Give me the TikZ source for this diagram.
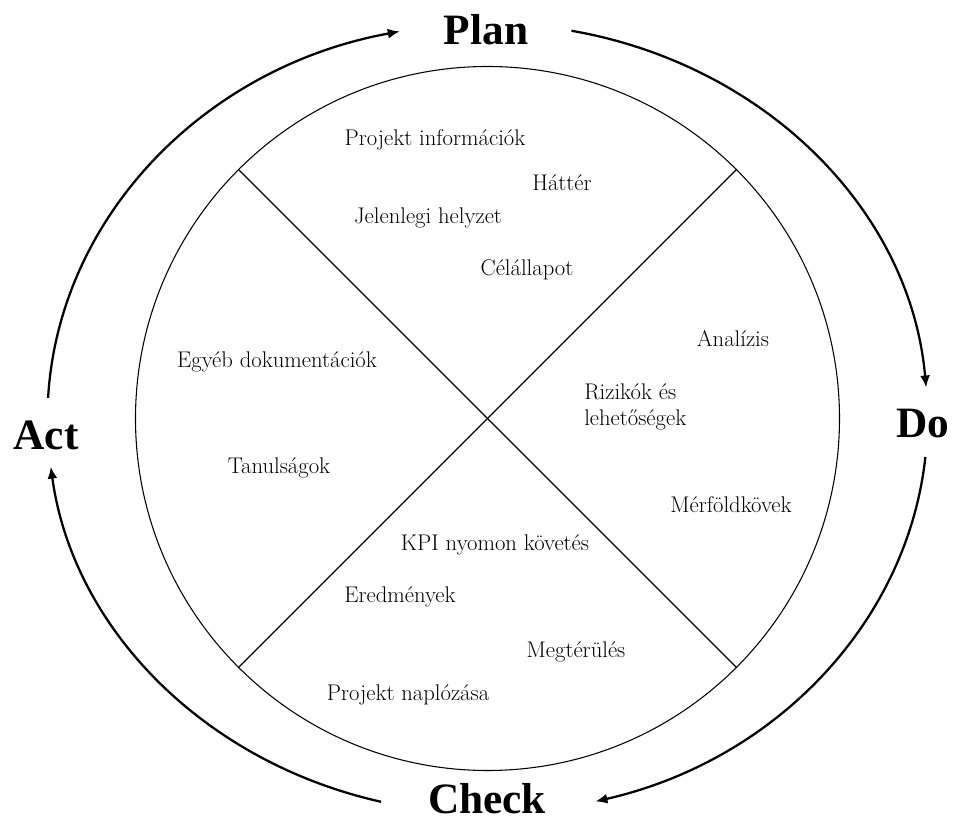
\documentclass[tikz,border=0pt]{standalone}
\usepackage{fontspec}
\newfontfamily\phasefont{LiberationSerif-Bold.ttf}
\usetikzlibrary{arrows.meta}

\begin{document}
\begin{tikzpicture}[x=0.75pt,y=0.75pt,
    item/.style={inner sep=0pt,font=\fontsize{17}{20}\selectfont},
    phase/.style={inner sep=0pt,anchor=base,font=\fontsize{32.5}{36}\phasefont},
    turn/.style={-{Latex[length=9pt,width=7.5pt]},line width=1.7pt}]
            \useasboundingbox (-487.5,-404.5) rectangle (468.5,418.5);

            % wheel
            \node[draw,circle,inner sep=0pt,minimum size=528pt,line width=0.8pt] (wheel) at (0,0) {};
            \draw[line width=0.9pt] (wheel.135) -- (wheel.315);
            \draw[line width=0.9pt] (wheel.45) -- (wheel.225);

            % phases
            \node[phase] (plan) at (-1.5,373.5) {Plan};
            \node[phase] (do) at (435.5,-19.5) {Do};
            \node[phase] (check) at (-0.5,-395) {Check};
            \node[phase] (act) at (-441.5,-31.5) {Act};

            % arrows round the wheel
            \coordinate (actout) at (177:440 and 395);
            \coordinate (planout) at (79:440 and 395);
            \coordinate (doout) at (-5.6:440 and 395);
            \coordinate (checkout) at (-104:440 and 395);
            \draw[turn] (actout) arc[start angle=177,end angle=101.5,x radius=440,y radius=395];
            \draw[turn] (planout) arc[start angle=79,end angle=4.5,x radius=440,y radius=395];
            \draw[turn] (doout) arc[start angle=-5.6,end angle=-75.8,x radius=440,y radius=395];
            \draw[turn] (checkout) arc[start angle=-104,end angle=-173,x radius=440,y radius=395];

            % plan
            \node[item] (projinfo) at (-52.5,278.5) {Projekt információk};
            \node[item] (hatter) at (74.5,235.5) {Háttér};
            \node[item] (helyzet) at (-59.5,200.5) {Jelenlegi helyzet};
            \node[item] (celall) at (39.5,148.5) {Célállapot};

            % do
            \node[item] (analizis) at (245.5,79.5) {Analízis};
            \node[item,anchor=west,align=left] (rizikok) at (96.5,11.5) {Rizikók és\\lehetőségek};
            \node[item] (merfold) at (243.5,-86.5) {Mérföldkövek};

            % check
            \node[item] (kpi) at (7.5,-126.5) {KPI nyomon követés};
            \node[item] (eredm) at (-87.5,-178.5) {Eredmények};
            \node[item] (megter) at (88.5,-233.5) {Megtérülés};
            \node[item] (naplo) at (-79.5,-276.5) {Projekt naplózása};

            % act
            \node[item] (egyeb) at (-210.5,56.5) {Egyéb dokumentációk};
            \node[item] (tanul) at (-208.5,-49.5) {Tanulságok};
        \end{tikzpicture}
\end{document}
